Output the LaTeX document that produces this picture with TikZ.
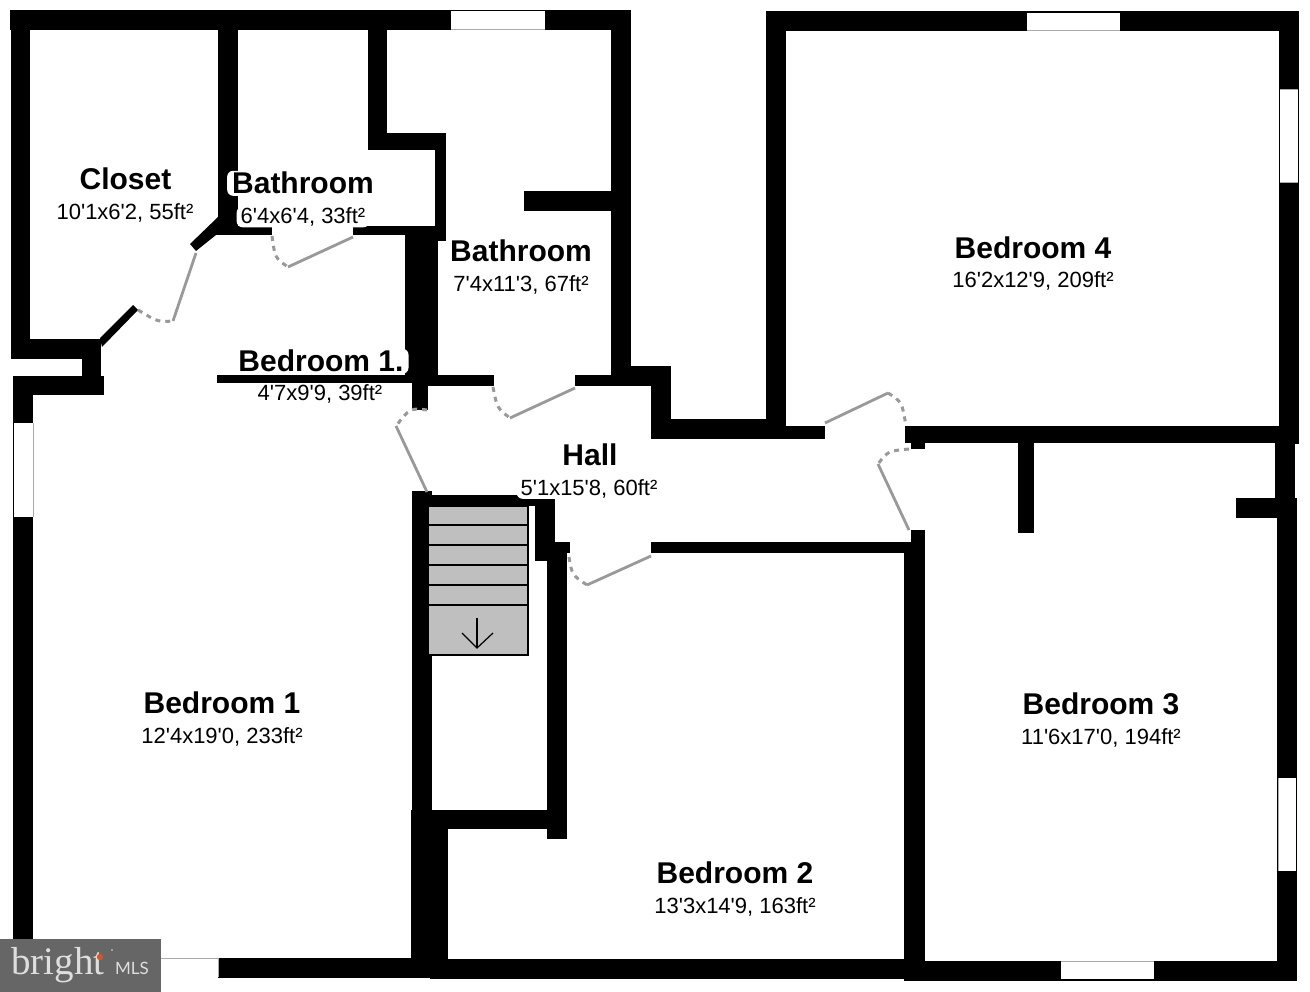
\documentclass[tikz,border=0pt]{standalone}
\usepackage{fontspec}
\newfontfamily\labelfont{Liberation Sans}
\newfontfamily\brightfont{Liberation Serif}
\newfontfamily\mlsfont{Lato}
\definecolor{doorgray}{HTML}{999999}
\definecolor{stairgray}{HTML}{BFBFBF}
\definecolor{badgegray}{HTML}{666666}
\definecolor{badgetext}{HTML}{DEDEDE}
\definecolor{badgedot}{HTML}{D2562A}
\definecolor{wingray}{HTML}{AAAAAA}
\newcommand\wallbox[4]{\fill[black] (#1,#2) rectangle (#3,#4);}
\newcommand\winbox[4]{\fill[white] (#1,#2) rectangle (#3,#4);}
\tikzset{
  roomname/.style={anchor=base,font=\labelfont\fontsize{30}{30}\selectfont\bfseries,fill=white,rounded corners=6pt,inner xsep=5pt,inner ysep=1.5pt,text=black},
  roomsize/.style={anchor=base,font=\labelfont\fontsize{22}{22}\selectfont,fill=white,rounded corners=6pt,inner xsep=4pt,inner ysep=1pt,text=black},
  leaf/.style={draw=doorgray,line width=2.8pt},
  swing/.style={draw=doorgray,line width=3pt,dash pattern=on 5pt off 5pt},
  tread/.style={draw=black,line width=1.2pt},
  winedge/.style={draw=wingray,line width=1pt}
}
\begin{document}
\begin{tikzpicture}[x=1pt,y=-1pt]
\useasboundingbox (0,0) rectangle (1310,992);
% outer and inner walls, left block
\wallbox{10}{10}{631}{30}
\wallbox{11}{10}{30}{359}
\wallbox{11}{339}{101}{359}
\wallbox{82}{339}{101}{395}
\wallbox{13}{376}{104}{395}
\wallbox{13}{376}{33}{965}
\wallbox{218}{10}{238}{235}
\wallbox{215}{226}{272}{235}
\fill[black] (218,217) -- (190,244) -- (196,251) -- (216,235) -- (238,235) -- cycle;
\fill[black] (100,338) -- (133,305) -- (138,310) -- (102,347) -- cycle;
\wallbox{353}{226}{446}{235}
\wallbox{435}{133}{446}{241}
\wallbox{368}{133}{446}{150}
\wallbox{368}{10}{387}{150}
\wallbox{611}{10}{631}{386}
\wallbox{611}{366}{671}{386}
\wallbox{651}{366}{671}{439}
\wallbox{651}{419}{771}{439}
\wallbox{524}{191}{611}{211}
\wallbox{405}{226}{438}{383}
\wallbox{412}{375}{494}{386}
\wallbox{412}{386}{428}{410}
\wallbox{217}{375}{405}{383}
\wallbox{575}{375}{651}{386}
% stairs walls
\wallbox{412}{491}{432}{810}
\wallbox{412}{495}{555}{506}
\wallbox{535}{495}{555}{561}
\wallbox{535}{542}{570}{553}
\wallbox{547}{542}{567}{839}
\wallbox{412}{810}{567}{829}
\wallbox{411}{810}{448}{978}
\wallbox{218}{958}{448}{978}
\wallbox{430}{959}{925}{979}
% right block
\wallbox{766}{11}{786}{439}
\wallbox{766}{11}{1299}{31}
\wallbox{1279}{11}{1299}{444}
\wallbox{771}{426}{825}{439}
\wallbox{905}{426}{1299}{443}
\wallbox{911}{443}{925}{449}
\wallbox{1018}{443}{1034}{533}
\wallbox{1275}{443}{1295}{518}
\wallbox{1236}{498}{1297}{518}
\wallbox{1277}{498}{1297}{981}
\wallbox{911}{530}{925}{553}
\wallbox{651}{542}{925}{553}
\wallbox{904}{542}{925}{981}
\wallbox{905}{961}{1297}{981}
% windows
\winbox{451}{11}{545}{30}
\draw[winedge] (451,30) -- (545,30);
\winbox{1027}{13}{1120}{31}
\draw[winedge] (1027,31) -- (1120,31);
\winbox{1280}{90}{1298}{183}
\draw[winedge] (1280,90) -- (1298,90) (1280,183) -- (1298,183);
\winbox{14}{423}{33}{517}
\draw[winedge] (33,423) -- (33,517);
\winbox{1278}{778}{1296}{871}
\draw[winedge] (1278,778) -- (1278,871);
\winbox{1061}{961}{1154}{979}
\draw[winedge] (1061,961) -- (1154,961);
\winbox{160}{958}{218}{977}
\draw[winedge] (160,958) -- (218,958) (218,958) -- (218,977);
% staircase
\fill[stairgray] (428,506) rectangle (528,655);
\draw[tread] (428,506) rectangle (528,655);
\foreach \yy in {525,545,565,585,605}{\draw[tread] (428,\yy) -- (528,\yy);}
\coordinate (arrowtop) at (477,618);
\coordinate (arrowtip) at (477,648);
\coordinate (arrowl) at (462,633);
\coordinate (arrowr) at (493,633);
\draw[line width=1.2pt] (arrowtop) -- (arrowtip);
\draw[line width=1.2pt] (arrowl) -- (arrowtip) -- (arrowr);
% doors
\draw[leaf] (196,253) -- (173,321);
\draw[swing] (138,310) .. controls (158,322) .. (173,321);
\draw[leaf] (353,237) -- (288,267);
\draw[swing] (272,236) .. controls (275,258) .. (288,267);
\draw[leaf] (575,388) -- (510,418);
\draw[swing] (493,387) .. controls (497,408) .. (510,418);
\draw[leaf] (396,426) -- (427,492);
\draw[swing] (427,410) .. controls (410,408) .. (396,426);
\draw[leaf] (651,556) -- (587,585);
\draw[swing] (569,557) .. controls (572,575) .. (587,585);
\draw[leaf] (825,423) -- (888,393);
\draw[swing] (888,393) .. controls (902,402) .. (906,426);
\draw[leaf] (878,464) -- (909,530);
\draw[swing] (909,449) .. controls (888,451) .. (878,464);
% labels
\node[roomname] (closet) at (125.5,190) {Closet};
\node[roomsize] (closetS) at (125,219.5) {10'1x6'2, 55ft²};
\node[roomname] (bathA) at (303,194) {Bathroom};
\node[roomsize] (bathAS) at (303,223.5) {6'4x6'4, 33ft²};
\node[roomname] (bedsmall) at (321,372) {Bedroom 1.};
\node[roomsize] (bedsmallS) at (320,401) {4'7x9'9, 39ft²};
\node[roomname] (bathB) at (521,262) {Bathroom};
\node[roomsize] (bathBS) at (521,292) {7'4x11'3, 67ft²};
\node[roomname] (hall) at (590,465) {Hall};
\node[roomsize] (hallS) at (589,495) {5'1x15'8, 60ft²};
\node[roomname] (bedD) at (1033,259) {Bedroom 4};
\node[roomsize] (bedDS) at (1033,288) {16'2x12'9, 209ft²};
\node[roomname] (bedA) at (222,713) {Bedroom 1};
\node[roomsize] (bedAS) at (222,743) {12'4x19'0, 233ft²};
\node[roomname] (bedC) at (1101,714) {Bedroom 3};
\node[roomsize] (bedCS) at (1101,744) {11'6x17'0, 194ft²};
\node[roomname] (bedB) at (735,883) {Bedroom 2};
\node[roomsize] (bedBS) at (735,913) {13'3x14'9, 163ft²};
% badge
\fill[badgegray] (0,939) rectangle (161,992);
\node[anchor=base west,inner sep=0pt,text=badgetext,font=\brightfont\fontsize{39}{39}\selectfont] (bright) at (11,974) {bright};
\fill[badgedot] (100,957) circle (3.2pt);
\fill[badgetext] (112,950) circle (0.8pt);
\node[anchor=base west,inner sep=0pt,text=badgetext,font=\mlsfont\fontsize{17}{17}\selectfont] (mls) at (115,974) {MLS};
\end{tikzpicture}
\end{document}
